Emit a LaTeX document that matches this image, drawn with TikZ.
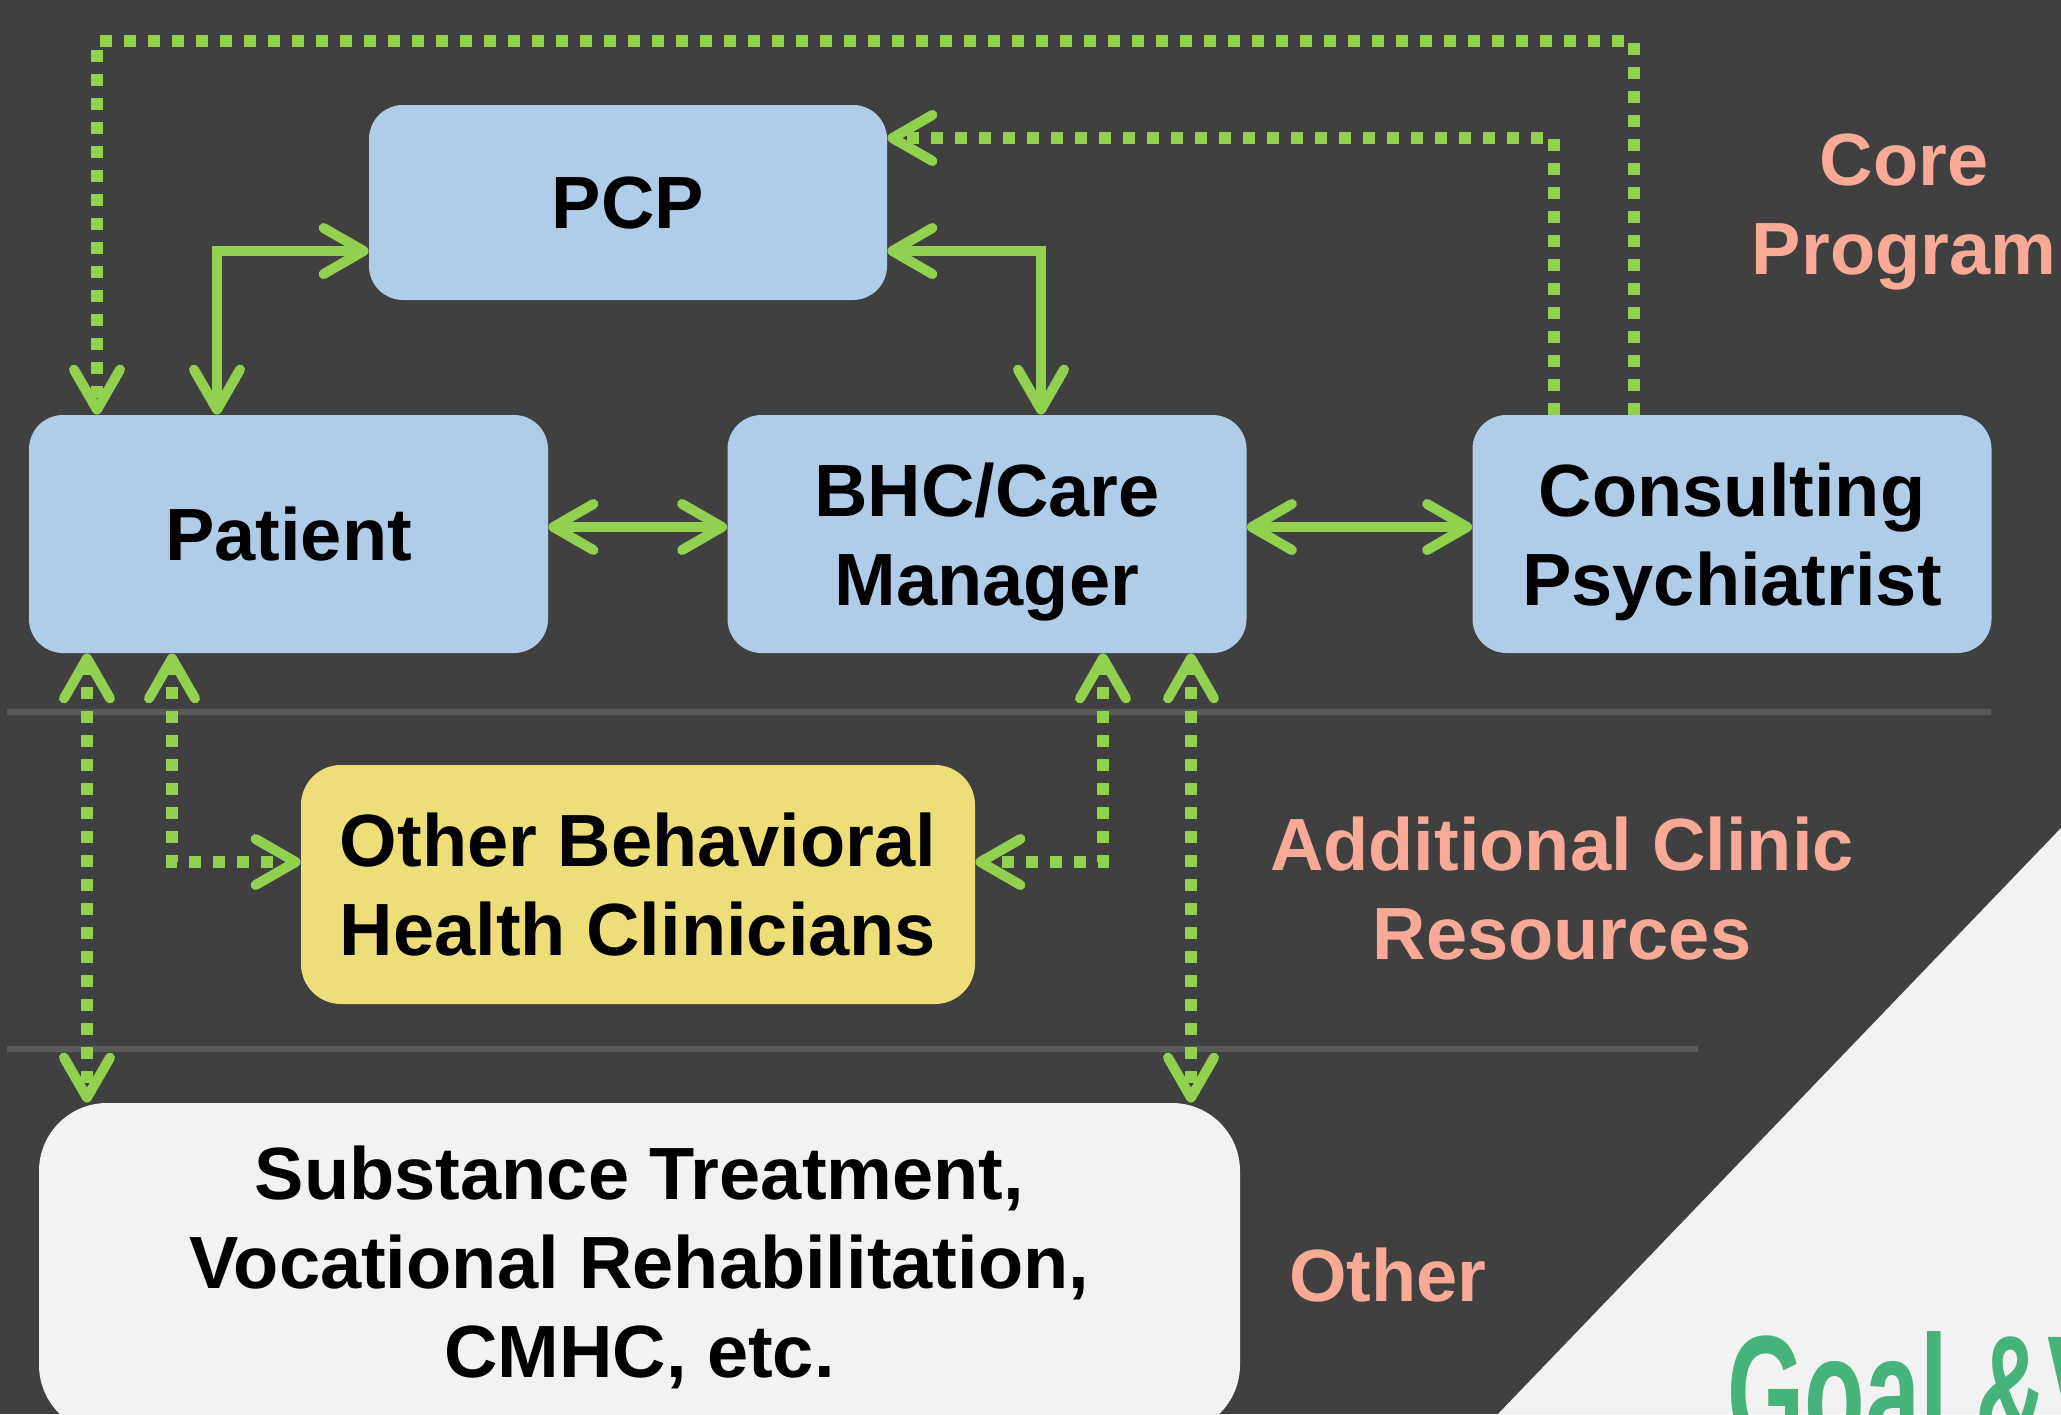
\documentclass[tikz,border=0pt]{standalone}
\usepackage{fontspec}
\setmainfont{Liberation Sans}
\usetikzlibrary{arrows.meta,calc}
\definecolor{bgc}{HTML}{404040}
\definecolor{sepc}{HTML}{5A5A5A}
\definecolor{grn}{HTML}{92D050}
\definecolor{boxblue}{HTML}{AFCDE8}
\definecolor{boxyellow}{HTML}{EEDE79}
\definecolor{boxwhite}{HTML}{F2F2F2}
\definecolor{salmon}{HTML}{F8AA96}
\definecolor{goalgreen}{HTML}{45B37B}
\newcommand\boxfont{\fontsize{37}{44.5}\selectfont\bfseries}
\begin{document}
\begin{tikzpicture}[x=0.5pt,y=-0.5pt,
  gt/.tip={Straight Barb[length=20pt,width=23pt,round,line width=5pt 0]},
  boxs/.style={rounded corners=17pt, fill=boxblue, inner sep=0pt, align=center,
    font=\boxfont, text=black, minimum width=259.5pt, minimum height=119pt, text depth=0pt},
  conn/.style={draw=grn, line width=5pt, arrows={gt-gt}},
  dotconn/.style={draw=grn, line width=6pt, dash pattern=on 6pt off 6pt},
  lbl/.style={text=salmon, font=\boxfont, align=center, inner sep=0pt},
  sepline/.style={draw=sepc, line width=3pt}
]
\useasboundingbox (0,0) rectangle (2061,1414);
\clip (0,0) rectangle (2061,1414);
\fill[bgc] (0,0) rectangle (2061,1414);
\fill[boxwhite] (2061,828) -- (1498,1414) -- (2061,1414) -- cycle;

% separators
\draw[sepline] (7,712) -- (1991,712);
\draw[sepline] (7,1049) -- (1698,1049);

% boxes
\node[boxs, minimum width=259pt, minimum height=97.5pt] (pcp) at (628,202.5) {PCP};
\node[boxs] (patient) at (288.5,534) {Patient};
\node[boxs] (bhc) at (987,534) {BHC/Care\\Manager};
\node[boxs] (psych) at (1732,534) {Consulting\\Psychiatrist};
\node[boxs, fill=boxyellow, rounded corners=20pt, minimum width=337pt, minimum height=119.5pt] (obh) at (638,884.5) {Other Behavioral\\Health Clinicians};
\node[boxs, fill=boxwhite, rounded corners=34pt, minimum width=600.5pt, minimum height=165pt, text depth=6pt] (other) at (639.5,1268) {Substance Treatment,\\Vocational Rehabilitation,\\CMHC, etc.};

% solid connectors
\draw[conn] (patient.north -| 217,0) |- (pcp.west |- 0,251);
\draw[conn] (pcp.east |- 0,251) -| (bhc.north -| 1041,0);
\draw[conn] (patient.east |- 0,527) -- (bhc.west |- 0,527);
\draw[conn] (bhc.east |- 0,527) -- (psych.west |- 0,527);

% dotted connectors
\draw[dotconn, arrows={-gt}] (psych.north -| 1634,0) |- (97,41) -- (patient.north -| 97,0);
\draw[dotconn, arrows={-gt}] (psych.north -| 1554,0) |- (pcp.east |- 0,138);
\draw[dotconn, arrows={gt-gt}] (patient.south -| 87,0) -- (other.north -| 87,0);
\draw[dotconn, arrows={gt-gt}] (patient.south -| 172,0) |- (obh.west |- 0,862);
\draw[dotconn, arrows={gt-gt}] (bhc.south -| 1103,0) |- (obh.east |- 0,862);
\draw[dotconn, arrows={gt-gt}] (bhc.south -| 1191,0) -- (other.north -| 1191,0);

% labels
\node[lbl] (core) at (1904,212) {Core\\Program};
\node[lbl] (addl) at (1562,889) {Additional Clinic\\Resources};
\node[lbl, anchor=base] (oth) at (1388,1301) {Other};
\node[anchor=base west, inner sep=0pt, text=goalgreen] (goal) at (1727,1447)
  {\scalebox{0.62}[1]{\fontsize{80}{80}\selectfont\bfseries Goal \&V}};
\end{tikzpicture}
\end{document}
